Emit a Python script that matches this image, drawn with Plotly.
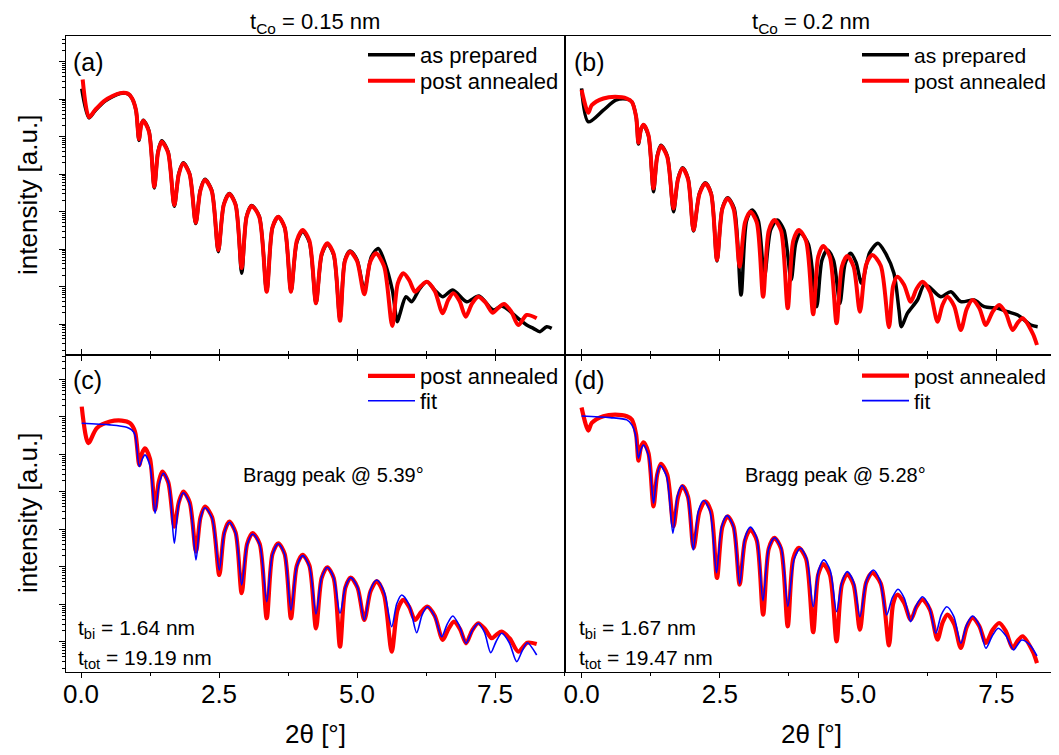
import plotly.graph_objects as go

# The page body has an 8 px margin, so the figure is drawn 8 px in from the window's corner.
WIN_W, WIN_H, OFF = 1059, 755, 8
FW, FH = WIN_W - OFF, WIN_H - OFF
FONT = "Liberation Sans, Arial, sans-serif"

# ---------------- data (2theta in deg, intensity in a.u.) ----------------
# panel (a): t_Co = 0.15 nm
a_prep_x = [0.013, 0.145, 0.254, 0.435, 0.707, 0.851, 0.924, 0.996, 1.05, 1.09,
            1.129, 1.23, 1.328, 1.395, 1.462, 1.576, 1.690, 1.772, 1.853, 1.966,
            2.078, 2.162, 2.246, 2.367, 2.487, 2.587, 2.687, 2.80, 2.911, 3.00,
            3.092, 3.228, 3.364, 3.469, 3.574, 3.689, 3.804, 3.91, 4.016, 4.137,
            4.257, 4.36, 4.462, 4.577, 4.692, 4.78, 4.873, 5.00, 5.132, 5.26,
            5.386, 5.50, 5.64, 5.730, 5.78, 5.888, 5.99, 6.13, 6.263, 6.41,
            6.553, 6.734, 6.987, 7.21, 7.469, 7.621, 7.953, 8.074, 8.194, 8.315,
            8.437, 8.527]
a_prep_y = [1.91e6, 3.16e5, 4.90e5, 8.91e5, 1.41e6, 1.38e6, 1.05e6, 5.01e5, 7.94e4, 2.1e5,
            2.75e5, 1.43e5, 4.24e3, 4.0e4, 7.76e4, 4.0e4, 1.38e3, 1.04e4, 2.00e4, 1.04e4,
            479, 3.76e3, 7.24e3, 3.76e3, 85.1, 1.57e3, 3.02e3, 1.57e3, 22.5, 754,
            1.45e3, 754, 7.41, 376, 724, 376, 7.41, 153, 295, 153,
            3.55, 70, 135, 70, 1.32, 50, 89.1, 52, 8.07, 62,
            104, 45, 8.0, 1.15, 1.93, 5.35, 3.94, 8.5, 13.4, 8.0,
            5.35, 8.07, 3.94, 5.58, 2.36, 3.02, 1.28, 0.94, 0.767, 0.624,
            0.847, 0.767]
a_ann_x = [0.03, 0.145, 0.254, 0.435, 0.707, 0.851, 0.924, 0.996, 1.05, 1.09,
           1.129, 1.23, 1.328, 1.395, 1.462, 1.576, 1.690, 1.772, 1.853, 1.966,
           2.078, 2.162, 2.246, 2.367, 2.487, 2.587, 2.687, 2.80, 2.911, 3.00,
           3.092, 3.228, 3.364, 3.469, 3.574, 3.689, 3.804, 3.91, 4.016, 4.137,
           4.257, 4.36, 4.462, 4.577, 4.692, 4.78, 4.873, 5.00, 5.132, 5.238,
           5.344, 5.49, 5.639, 5.739, 5.839, 5.945, 6.051, 6.157, 6.263, 6.408,
           6.553, 6.65, 6.745, 6.857, 6.969, 7.083, 7.197, 7.33, 7.458, 7.56,
           7.663, 7.79, 7.922, 8.074, 8.255]
a_ann_y = [3.35e6, 3.31e5, 5.13e5, 9.33e5, 1.45e6, 1.40e6, 1.06e6, 5.09e5, 8.57e4, 2.0e5,
           2.64e5, 1.37e5, 4.58e3, 3.78e4, 7.26e4, 3.78e4, 1.49e3, 1.0e4, 1.93e4, 1.0e4,
           502, 3.6e3, 6.92e3, 3.6e3, 94.0, 1.52e3, 2.93e3, 1.52e3, 31.1, 728,
           1.40e3, 728, 7.26, 378, 726, 378, 7.26, 167, 321, 167,
           3.56, 74, 142, 74, 1.22, 47, 84.7, 48, 6.19, 45,
           76.7, 35, 0.885, 12.2, 22.5, 14.9, 7.26, 10.3, 13.4, 7.6,
           1.93, 4.3, 6.59, 4.1, 1.57, 3.5, 5.35, 3.7, 2.00, 2.7,
           3.41, 2.2, 0.94, 1.74, 1.42]

# panel (b): t_Co = 0.2 nm
b_prep_x = [0.0, 0.123, 0.395, 0.62, 0.819, 0.909, 0.987, 1.029, 1.075, 1.12,
            1.21, 1.301, 1.368, 1.435, 1.549, 1.663, 1.745, 1.826, 1.925, 2.025,
            2.131, 2.237, 2.343, 2.449, 2.545, 2.641, 2.76, 2.884, 2.984, 3.084,
            3.195, 3.306, 3.42, 3.536, 3.66, 3.789, 3.874, 3.958, 4.10, 4.25,
            4.346, 4.442, 4.556, 4.67, 4.767, 4.864, 4.963, 5.063, 5.21, 5.359,
            5.5, 5.648, 5.739, 5.783, 5.891, 6.072, 6.192, 6.283, 6.495, 6.676,
            6.857, 7.098, 7.279, 7.522, 7.703, 7.884, 8.125, 8.246]
b_prep_y = [1.93e6, 2.48e5, 5.09e5, 9.40e5, 1.00e6, 8.51e5, 3.39e5, 6.31e4, 1.55e5, 2.03e5,
            1.05e5, 3.37e3, 3.06e4, 5.89e4, 3.06e4, 989, 7.7e3, 1.48e4, 7.7e3, 302,
            3.06e3, 5.89e3, 3.06e3, 47.9, 1.22e3, 2.34e3, 1.22e3, 5.93, 572, 1.10e3,
            580, 18.2, 330, 593, 320, 14.9, 145, 262, 136, 2.89,
            50, 94.0, 50, 3.56, 42, 76.7, 44, 12.2, 80, 142,
            75, 22.5, 2.36, 0.847, 1.93, 4.37, 11.0, 9.89, 5.35, 7.26,
            3.94, 4.37, 2.89, 2.62, 2.13, 1.74, 0.94, 0.847]
b_ann_x = [0.0, 0.123, 0.185, 0.395, 0.607, 0.819, 0.909, 0.987, 1.029, 1.075,
           1.12, 1.21, 1.301, 1.368, 1.435, 1.549, 1.663, 1.745, 1.826, 1.925,
           2.025, 2.131, 2.237, 2.343, 2.449, 2.545, 2.641, 2.75, 2.859, 2.956,
           3.053, 3.168, 3.283, 3.385, 3.487, 3.607, 3.728, 3.828, 3.928, 4.058,
           4.188, 4.278, 4.369, 4.49, 4.611, 4.707, 4.804, 4.918, 5.033, 5.145,
           5.257, 5.41, 5.558, 5.634, 5.71, 5.83, 5.951, 6.057, 6.163, 6.3,
           6.435, 6.525, 6.616, 6.737, 6.857, 6.963, 7.069, 7.19, 7.31, 7.43,
           7.55, 7.67, 7.793, 7.884, 7.975, 8.156, 8.234]
b_ann_y = [1.78e6, 4.32e5, 6.92e5, 1.04e6, 1.15e6, 1.04e6, 8.47e5, 3.37e5, 6.84e4, 1.6e5,
           2.09e5, 1.09e5, 4.14e3, 2.9e4, 5.58e4, 2.9e4, 1.21e3, 7.4e3, 1.42e4, 7.4e3,
           321, 2.94e3, 5.65e3, 2.94e3, 50.9, 1.17e3, 2.25e3, 1.17e3, 33.7, 514,
           989, 514, 5.35, 308, 593, 308, 2.62, 167, 321, 167,
           1.82, 62, 120, 62, 1.04, 34, 65.0, 34, 2.13, 38,
           69.2, 36, 0.817, 10.5, 18.2, 11.1, 3.94, 8.7, 13.4, 7.2,
           1.15, 3.2, 5.35, 3.0, 0.692, 2.5, 4.37, 2.67, 0.94, 2.09,
           3.21, 1.96, 0.692, 1.07, 1.42, 0.565, 0.275]

# panel (c): t_Co = 0.15 nm, post annealed + fit
c_ann_x = [0.013, 0.133, 0.284, 0.525, 0.737, 0.888, 0.978, 1.056, 1.108, 1.159,
           1.25, 1.341, 1.407, 1.473, 1.58, 1.69, 1.772, 1.853, 1.968, 2.083,
           2.165, 2.246, 2.375, 2.505, 2.596, 2.687, 2.80, 2.911, 3.01, 3.11,
           3.237, 3.364, 3.469, 3.574, 3.689, 3.804, 3.91, 4.016, 4.137, 4.257,
           4.36, 4.462, 4.577, 4.692, 4.789, 4.886, 5.01, 5.132, 5.245, 5.357,
           5.49, 5.629, 5.734, 5.839, 5.945, 6.051, 6.163, 6.274, 6.41, 6.553,
           6.655, 6.757, 6.866, 6.975, 7.086, 7.197, 7.32, 7.44, 7.53, 7.621,
           7.77, 7.922, 8.085, 8.255]
c_ann_y = [1.88e6, 1.99e5, 4.99e5, 7.50e5, 7.98e5, 6.79e5, 4.06e5, 5.25e4, 1.1e5, 1.46e5,
           7.6e4, 3.31e3, 1.81e4, 3.48e4, 1.81e4, 1.19e3, 5.3e3, 1.02e4, 5.3e3, 256,
           2.11e3, 4.06e3, 2.11e3, 61.2, 837, 1.61e3, 837, 19.9, 412, 793,
           412, 4.29, 223, 429, 223, 4.29, 109, 209, 109, 2.32,
           51, 98.2, 51, 0.750, 28, 51.9, 28, 3.86, 22.5, 41.7,
           18, 0.551, 7.1, 13.2, 8.6, 3.86, 6.3, 8.73, 4.9, 1.13,
           2.2, 3.48, 2.2, 0.923, 2.05, 3.16, 2.2, 1.26, 1.58, 1.88,
           1.22, 0.551, 0.957, 0.885]
c_fit_x = [0.013, 0.525, 0.828, 0.918, 0.978, 1.056, 1.108, 1.159, 1.25, 1.341,
           1.416, 1.491, 1.59, 1.69, 1.772, 1.853, 1.968, 2.083, 2.165, 2.246,
           2.375, 2.505, 2.596, 2.687, 2.80, 2.911, 3.01, 3.11, 3.237, 3.364,
           3.469, 3.574, 3.689, 3.804, 3.91, 4.016, 4.137, 4.257, 4.36, 4.462,
           4.577, 4.692, 4.789, 4.886, 5.01, 5.132, 5.245, 5.357, 5.49, 5.629,
           5.72, 5.81, 5.945, 6.081, 6.178, 6.274, 6.404, 6.534, 6.634, 6.734,
           6.855, 6.975, 7.086, 7.197, 7.31, 7.422, 7.52, 7.621, 7.757, 7.893,
           7.99, 8.085, 8.255]
c_fit_y = [6.79e5, 6.12e5, 5.31e5, 4.50e5, 3.31e5, 4.73e4, 7.4e4, 9.70e4, 5.0e4, 2.70e3,
           1.64e4, 3.16e4, 1.64e4, 429, 4.97e3, 9.55e3, 4.97e3, 154, 1.98e3, 3.80e3,
           1.98e3, 83.2, 806, 1.55e3, 806, 33.1, 395, 759, 395, 11.9,
           217, 417, 217, 7.13, 104, 200, 104, 5.62, 52, 98.2,
           52, 5.82, 29, 51.9, 29, 3.86, 24.8, 45.0, 22, 2.56,
           10.5, 17.9, 9.8, 1.77, 5.2, 8.73, 5.0, 1.38, 3.0, 4.93,
           2.7, 0.923, 2.0, 3.16, 1.8, 0.519, 1.03, 1.71, 0.97, 0.299,
           0.57, 0.957, 0.450]

# panel (d): t_Co = 0.2 nm, post annealed (same measurement as in b) + fit
d_ann_x = b_ann_x
d_ann_y = b_ann_y
d_fit_x = [0.0, 0.516, 0.819, 0.909, 0.969, 1.029, 1.075, 1.12, 1.21, 1.301,
           1.36, 1.422, 1.537, 1.652, 1.733, 1.815, 1.918, 2.02, 2.113, 2.207,
           2.323, 2.44, 2.535, 2.63, 2.745, 2.86, 2.956, 3.053, 3.166, 3.28,
           3.385, 3.49, 3.61, 3.73, 3.844, 3.958, 4.073, 4.188, 4.284, 4.38,
           4.495, 4.611, 4.707, 4.804, 4.918, 5.033, 5.154, 5.275, 5.395, 5.516,
           5.618, 5.721, 5.836, 5.951, 6.057, 6.163, 6.283, 6.404, 6.503, 6.603,
           6.73, 6.857, 6.963, 7.069, 7.19, 7.31, 7.42, 7.533, 7.672, 7.811,
           7.884, 7.957, 8.1, 8.234]
d_fit_y = [1.06e6, 9.59e5, 8.32e5, 6.12e5, 3.67e5, 7.93e4, 1.36e5, 1.79e5, 9.3e4, 5.00e3,
           2.6e4, 5.01e4, 2.6e4, 794, 7.7e3, 1.48e4, 7.7e3, 282, 3.06e3, 5.89e3,
           3.06e3, 70.8, 1.22e3, 2.34e3, 1.22e3, 35.5, 600, 1.15e3, 600, 12.6,
           314, 603, 314, 8.91, 164, 316, 164, 8.73, 80, 154,
           82, 6.43, 40, 75.0, 40, 4.73, 44, 83.2, 44, 5.25,
           15, 25.4, 14.5, 3.48, 9.7, 16.1, 8.9, 1.71, 5.3, 8.73,
           4.8, 0.923, 2.9, 4.93, 2.8, 0.679, 1.4, 2.32, 1.46, 0.612,
           0.85, 1.13, 0.85, 0.424]

column_titles = ["t<sub>Co</sub> = 0.15 nm", "t<sub>Co</sub> = 0.2 nm"]
panel_labels = ["(a)", "(b)", "(c)", "(d)"]
fit_texts = [["t<sub>bi</sub> = 1.64 nm", "t<sub>tot</sub> = 19.19 nm"],
             ["t<sub>bi</sub> = 1.67 nm", "t<sub>tot</sub> = 19.47 nm"]]
bragg_texts = ["Bragg peak @ 5.39°", "Bragg peak @ 5.28°"]
bragg_arrow_x = [5.37, 5.214]
bragg_arrow_y = [65.0, 126.0]

BLACK, RED, BLUE = "#000000", "#ff0000", "#0000ff"

# ---------------- figure ----------------
fig = go.Figure()


def line(x, y, name, color, width, xa, ya, legend):
    fig.add_trace(go.Scatter(x=x, y=y, mode="lines", name=name, xaxis=xa, yaxis=ya, legend=legend,
                             line=dict(color=color, width=width, shape="spline", smoothing=0.8)))


line(a_prep_x, a_prep_y, "as prepared", BLACK, 3.5, "x", "y", "legend")
line(a_ann_x, a_ann_y, "post annealed", RED, 4, "x", "y", "legend2")
line(b_prep_x, b_prep_y, "as prepared", BLACK, 3.5, "x2", "y2", "legend3")
line(b_ann_x, b_ann_y, "post annealed", RED, 4, "x2", "y2", "legend4")
line(c_ann_x, c_ann_y, "post annealed", RED, 4.2, "x3", "y3", "legend5")
line(c_fit_x, c_fit_y, "fit", BLUE, 1.6, "x3", "y3", "legend6")
line(d_ann_x, d_ann_y, "post annealed", RED, 4.2, "x4", "y4", "legend7")
line(d_fit_x, d_fit_y, "fit", BLUE, 1.6, "x4", "y4", "legend8")


# window pixel -> paper fraction
def PX(px):
    return (px - OFF) / FW


def PY(py):
    return 1 - (py - OFF) / FH


# pixel geometry of the four frames (window pixels)
XL0, XM, XR1 = 66, 565, 1058
YT0, YM, YB1 = 36, 355, 672
dom_xl = [PX(XL0), PX(XM)]
dom_xr = [PX(XM), PX(XR1)]
dom_yt = [PY(YM), PY(YT0)]
dom_yb = [PY(YB1), PY(YM)]
rng_xl = [-0.272, 8.768]
rng_xr = [-0.299, 8.614]
rng_yt = [-0.827, 7.685]
rng_yb = [-0.80, 7.65]

tickfont = dict(family=FONT, size=26, color="black")


def xaxis(domain, rng, anchor, bottom):
    return dict(domain=domain, range=rng, anchor=anchor, showgrid=False, zeroline=False, automargin=False,
                showline=True, linecolor="black", linewidth=1,
                mirror="ticks" if bottom else True,
                ticks="outside", ticklen=5, tickwidth=1, tickcolor="black",
                tick0=0, dtick=2.5, showticklabels=bottom, tickformat=".1f", tickfont=tickfont,
                ticklabelstandoff=-6,
                minor=dict(ticks="outside", ticklen=3, tickcolor="black", tick0=0, dtick=1.25))


def yaxis(domain, rng, anchor, right):
    tk = "inside" if right else "outside"
    return dict(domain=domain, range=rng, anchor=anchor, type="log", showgrid=False, zeroline=False,
                automargin=False, showline=True, linecolor="black", linewidth=1, mirror=True,
                side="right" if right else "left",
                ticks=tk, ticklen=6, tickwidth=1, tickcolor="black", dtick=1, showticklabels=False,
                minor=dict(ticks=tk, ticklen=3, tickcolor="black", dtick="D1"))


def legend(px_line_start, py_center, size):
    return dict(x=PX(px_line_start - 5), y=PY(py_center), xanchor="left", yanchor="middle",
                bgcolor="rgba(0,0,0,0)", borderwidth=0, itemwidth=47,
                font=dict(family=FONT, size=size, color="black"))


fig.update_layout(
    template="none",
    width=FW, height=FH, margin=dict(l=0, r=0, t=0, b=0, autoexpand=False),
    paper_bgcolor="white", plot_bgcolor="white",
    font=dict(family=FONT, color="black"),
    xaxis=xaxis(dom_xl, rng_xl, "y", False),
    yaxis=yaxis(dom_yt, rng_yt, "x", False),
    xaxis2=xaxis(dom_xr, rng_xr, "y2", False),
    yaxis2=yaxis(dom_yt, rng_yt, "x2", True),
    xaxis3=xaxis(dom_xl, rng_xl, "y3", True),
    yaxis3=yaxis(dom_yb, rng_yb, "x3", False),
    xaxis4=xaxis(dom_xr, rng_xr, "y4", True),
    yaxis4=yaxis(dom_yb, rng_yb, "x4", True),
    legend=legend(368, 55, 22), legend2=legend(368, 81, 22),
    legend3=legend(862, 55, 21), legend4=legend(862, 81, 21),
    legend5=legend(368, 376, 22), legend6=legend(368, 401, 22),
    legend7=legend(862, 376, 21), legend8=legend(862, 401, 21),
    showlegend=True,
)

ann = []


def text(s, px, py, size, xanchor="center", angle=0, yanchor="middle"):
    ann.append(dict(text=s, x=PX(px), y=PY(py), xref="paper", yref="paper", showarrow=False,
                    xanchor=xanchor, yanchor=yanchor, textangle=angle, borderpad=0,
                    font=dict(family=FONT, size=size, color="black")))


# column titles (box bottom at the frame line, kept inside the page)
text(column_titles[0], 315, 38, 22, yanchor="bottom")
text(column_titles[1], 811, 38, 22, yanchor="bottom")
# axis titles
text("intensity [a.u.]", 28, 195, 26, angle=-90)
text("intensity [a.u.]", 28, 513, 26, angle=-90)
text("2θ [°]", 315, 734, 26)
text("2θ [°]", 811, 734, 26)
# panel labels
text(panel_labels[0], 72, 62, 25, "left")
text(panel_labels[1], 573, 62, 25, "left")
text(panel_labels[2], 72, 380, 25, "left")
text(panel_labels[3], 573, 380, 25, "left")
# fit parameters
text(fit_texts[0][0], 77, 629, 21, "left")
text(fit_texts[0][1], 77, 659, 21, "left")
text(fit_texts[1][0], 578, 629, 21, "left")
text(fit_texts[1][1], 578, 659, 21, "left")
# Bragg peak labels
text(bragg_texts[0], 333, 475, 20)
text(bragg_texts[1], 835, 475, 20)
# arrows pointing at the Bragg peaks
for i, (xr, yr) in enumerate([("x3", "y3"), ("x4", "y4")]):
    ann.append(dict(x=bragg_arrow_x[i], y=bragg_arrow_y[i], xref=xr, yref=yr, text="", showarrow=True,
                    arrowhead=2, arrowsize=1.1, arrowwidth=1.3, arrowcolor="black",
                    ax=-29, ay=-74 if i == 0 else -58, standoff=0))

fig.update_layout(annotations=ann)

fig.write_html("out.html")
